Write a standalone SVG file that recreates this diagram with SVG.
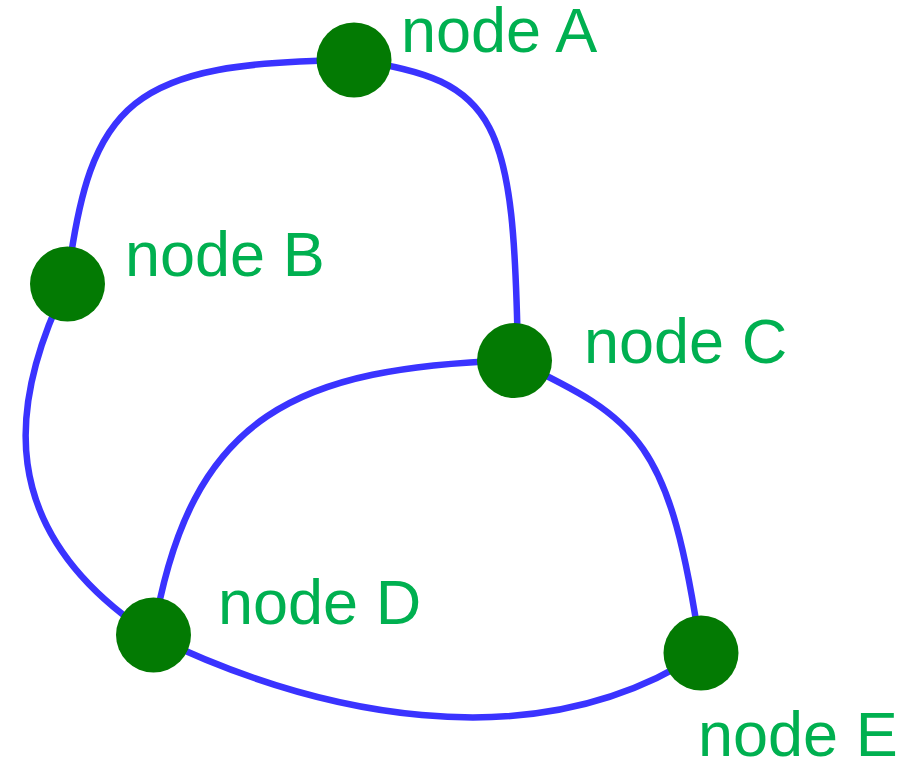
<svg xmlns="http://www.w3.org/2000/svg" width="912" height="761" viewBox="0 0 912 761">
<style>
.edge{fill:none;stroke:#3a33ff;stroke-width:6.5}
.node circle{fill:#037a03}
.node text{font-family:"Liberation Sans",Arial,sans-serif;font-size:63px;fill:#00b050}
</style>
<rect width="912" height="761" fill="#ffffff"/>
<g id="connectors">
<path class="edge" d="M354,60 C130,62 90,100 67,284"/>
<path class="edge" d="M354,60 C500,80 514,120 518,360"/>
<path class="edge" d="M67,284 C10,400 -10,530 153,636"/>
<path class="edge" d="M514,360 C300,368 190,410 153,636"/>
<path class="edge" d="M514,360 C640,420 670,440 701,653"/>
<path class="edge" d="M153,636 C310,712 530,765 701,653"/>
</g>
<g id="nodeA" class="node"><circle cx="354" cy="60" r="37.5"/><text x="401" y="52">node A</text></g>
<g id="nodeB" class="node"><circle cx="67.5" cy="284" r="37.5"/><text x="125" y="276">node B</text></g>
<g id="nodeC" class="node"><circle cx="514.5" cy="360.5" r="37.5"/><text x="584" y="363">node C</text></g>
<g id="nodeD" class="node"><circle cx="153.5" cy="635" r="37.5"/><text x="218" y="624">node D</text></g>
<g id="nodeE" class="node"><circle cx="701" cy="653" r="37.5"/><text x="698" y="756">node E</text></g>
</svg>
